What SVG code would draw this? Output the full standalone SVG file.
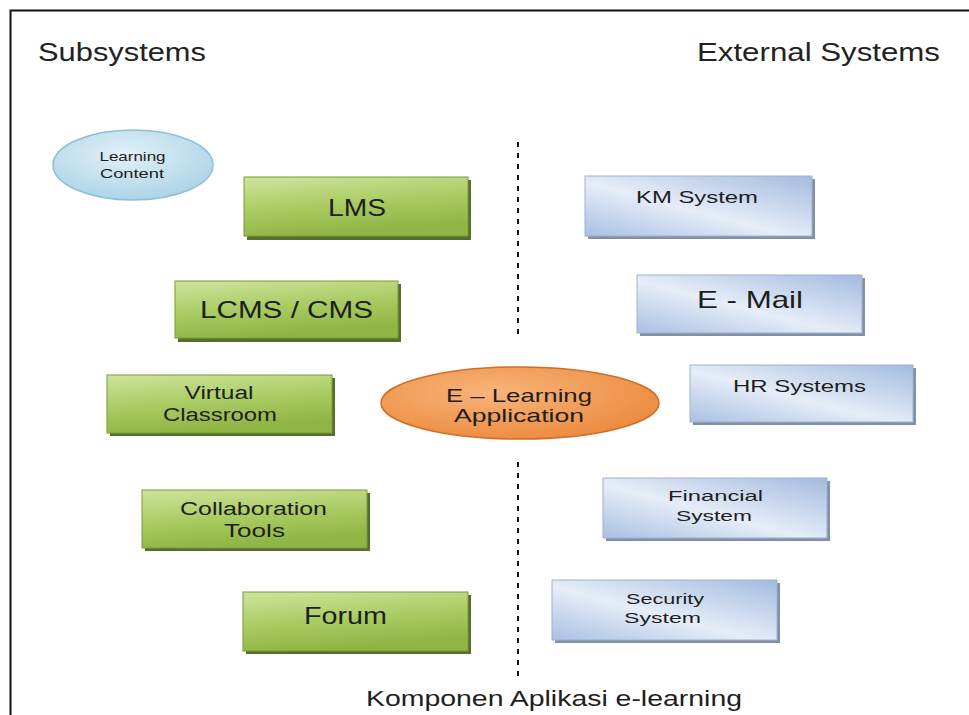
<svg xmlns="http://www.w3.org/2000/svg" width="969" height="715" viewBox="0 0 969 715">
  <defs>
    <linearGradient id="gGreen" x1="0" y1="0" x2="0.3" y2="1">
      <stop offset="0" stop-color="#cfe49c"/>
      <stop offset="0.55" stop-color="#a9cb62"/>
      <stop offset="1" stop-color="#8fb544"/>
    </linearGradient>
    <linearGradient id="gBlue" x1="0" y1="1" x2="1" y2="0">
      <stop offset="0" stop-color="#a9c0e2"/>
      <stop offset="0.45" stop-color="#e6edf8"/>
      <stop offset="1" stop-color="#a3bbdf"/>
    </linearGradient>
    <radialGradient id="gOrange" cx="0.4" cy="0.35" r="0.7">
      <stop offset="0" stop-color="#f8b47a"/>
      <stop offset="1" stop-color="#ec8a3e"/>
    </radialGradient>
    <radialGradient id="gSky" cx="0.45" cy="0.35" r="0.7">
      <stop offset="0" stop-color="#e2f1f8"/>
      <stop offset="1" stop-color="#a9d2e6"/>
    </radialGradient>
  </defs>
  <style>
    .title { font-family: "Liberation Sans", Arial, sans-serif; font-size: 25px; fill: #222; }
    .lbl { font-family: "Liberation Sans", Arial, sans-serif; fill: #1e1e1e; text-anchor: middle; }
    .green { fill: url(#gGreen); stroke: #7a9a3a; stroke-width: 1; }
    .gshadow { fill: #55702a; }
    .blue { fill: url(#gBlue); stroke: #9fb1cc; stroke-width: 1; }
    .bshadow { fill: #8290a6; }
    .divider { stroke: #111; stroke-width: 2; stroke-dasharray: 5 6; fill: none; }
  </style>

  <rect width="969" height="715" fill="#ffffff"/>

  <!-- page frame: top and left edges -->
  <path d="M10.5 715 V10.5 H969" fill="none" stroke="#111" stroke-width="2"/>

  <!-- column headings (wide slide text) -->
  <text class="title" x="38" y="61" textLength="168" lengthAdjust="spacingAndGlyphs">Subsystems</text>
  <text class="title" x="697" y="61" textLength="243" lengthAdjust="spacingAndGlyphs">External Systems</text>

  <!-- connectors: dashed divider between subsystems and external systems -->
  <g id="connectors">
    <line class="divider" x1="518" y1="142" x2="518" y2="337"/>
    <line class="divider" x1="518" y1="462" x2="518" y2="682"/>
  </g>

  <!-- subsystems -->
  <g id="learning-content">
    <ellipse cx="133" cy="165" rx="80" ry="35" fill="url(#gSky)" stroke="#8fbfd8" stroke-width="1.5"/>
    <text class="lbl" x="132.5" y="161" font-size="13" textLength="66" lengthAdjust="spacingAndGlyphs">Learning</text>
    <text class="lbl" x="132" y="178" font-size="13" textLength="64" lengthAdjust="spacingAndGlyphs">Content</text>
  </g>
  <g id="lms">
    <rect class="gshadow" x="247" y="180" width="224" height="60"/>
    <rect class="green" x="244" y="177" width="224" height="59"/>
    <text class="lbl" x="357" y="216" font-size="24" textLength="58" lengthAdjust="spacingAndGlyphs">LMS</text>
  </g>
  <g id="lcms">
    <rect class="gshadow" x="178" y="284" width="223" height="58"/>
    <rect class="green" x="175" y="281" width="223" height="57"/>
    <text class="lbl" x="286.5" y="318" font-size="24" textLength="173" lengthAdjust="spacingAndGlyphs">LCMS / CMS</text>
  </g>
  <g id="virtual-classroom">
    <rect class="gshadow" x="110" y="378" width="225" height="58"/>
    <rect class="green" x="107" y="375" width="225" height="58"/>
    <text class="lbl" x="219" y="399" font-size="18" textLength="69" lengthAdjust="spacingAndGlyphs">Virtual</text>
    <text class="lbl" x="220" y="421" font-size="18" textLength="114" lengthAdjust="spacingAndGlyphs">Classroom</text>
  </g>
  <g id="collaboration-tools">
    <rect class="gshadow" x="145" y="493" width="225" height="58"/>
    <rect class="green" x="142" y="490" width="225" height="58"/>
    <text class="lbl" x="253.5" y="515" font-size="18" textLength="147" lengthAdjust="spacingAndGlyphs">Collaboration</text>
    <text class="lbl" x="254.5" y="537" font-size="18" textLength="61" lengthAdjust="spacingAndGlyphs">Tools</text>
  </g>
  <g id="forum">
    <rect class="gshadow" x="246" y="595" width="225" height="59"/>
    <rect class="green" x="243" y="592" width="225" height="59"/>
    <text class="lbl" x="345.5" y="624" font-size="24" textLength="83" lengthAdjust="spacingAndGlyphs">Forum</text>
  </g>

  <!-- core application -->
  <g id="e-learning-application">
    <ellipse cx="520" cy="403" rx="139" ry="36" fill="url(#gOrange)" stroke="#cf6e25" stroke-width="1.5"/>
    <text class="lbl" x="519" y="402" font-size="19" textLength="146" lengthAdjust="spacingAndGlyphs">E – Learning</text>
    <text class="lbl" x="519" y="422" font-size="19" textLength="130" lengthAdjust="spacingAndGlyphs">Application</text>
  </g>

  <!-- external systems -->
  <g id="km-system">
    <rect class="bshadow" x="588" y="179" width="227" height="60"/>
    <rect class="blue" x="585" y="176" width="227" height="60"/>
    <text class="lbl" x="697" y="203" font-size="17" textLength="122" lengthAdjust="spacingAndGlyphs">KM System</text>
  </g>
  <g id="e-mail">
    <rect class="bshadow" x="640" y="278" width="225" height="58"/>
    <rect class="blue" x="637" y="275" width="225" height="58"/>
    <text class="lbl" x="750" y="308" font-size="24" textLength="106" lengthAdjust="spacingAndGlyphs">E - Mail</text>
  </g>
  <g id="hr-systems">
    <rect class="bshadow" x="693" y="368" width="223" height="57"/>
    <rect class="blue" x="690" y="365" width="223" height="57"/>
    <text class="lbl" x="799.5" y="392" font-size="17" textLength="133" lengthAdjust="spacingAndGlyphs">HR Systems</text>
  </g>
  <g id="financial-system">
    <rect class="bshadow" x="606" y="481" width="224" height="60"/>
    <rect class="blue" x="603" y="478" width="224" height="60"/>
    <text class="lbl" x="715.5" y="501" font-size="15" textLength="95" lengthAdjust="spacingAndGlyphs">Financial</text>
    <text class="lbl" x="714" y="521" font-size="15" textLength="76" lengthAdjust="spacingAndGlyphs">System</text>
  </g>
  <g id="security-system">
    <rect class="bshadow" x="555" y="583" width="225" height="60"/>
    <rect class="blue" x="552" y="580" width="225" height="60"/>
    <text class="lbl" x="665" y="604" font-size="15" textLength="78" lengthAdjust="spacingAndGlyphs">Security</text>
    <text class="lbl" x="662.5" y="623" font-size="15" textLength="77" lengthAdjust="spacingAndGlyphs">System</text>
  </g>

  <!-- caption -->
  <text class="lbl" x="554" y="706" font-size="22" fill="#222" textLength="376" lengthAdjust="spacingAndGlyphs">Komponen Aplikasi e-learning</text>
</svg>
